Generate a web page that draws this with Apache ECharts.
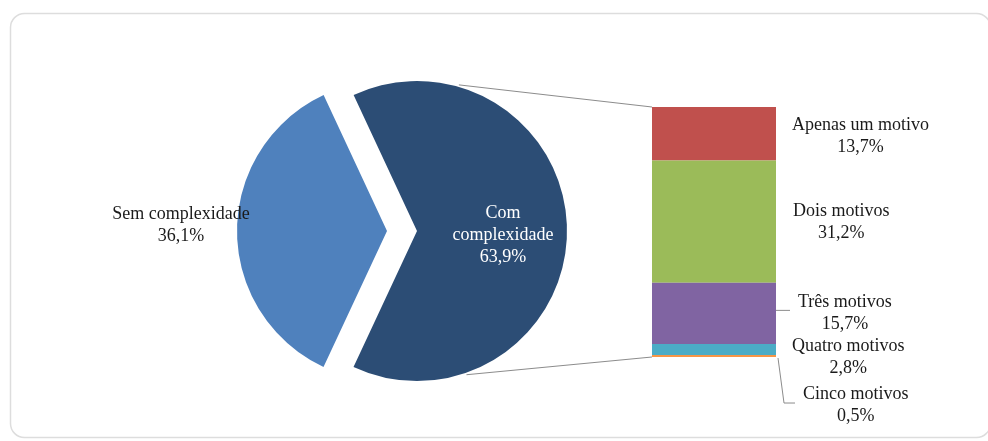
<!DOCTYPE html>
<html><head><meta charset="utf-8">
<script src="https://cdn.jsdelivr.net/npm/echarts@6/dist/echarts.min.js"></script>
<style>html,body{margin:0;padding:0;background:#fff;}#c{width:988px;height:441px;}</style>
</head><body><div id="c"></div>
<script>
// ---- data ----
const pieNames = ['Com complexidade', 'Sem complexidade'];
const pieTextLines = [['Com', 'complexidade'], ['Sem complexidade']];
const pieValues = [63.9, 36.1];
const pieLabels = ['63,9%', '36,1%'];
const barCategory = ['Com complexidade'];
const barNames = ['Apenas um motivo', 'Dois motivos', 'Três motivos', 'Quatro motivos', 'Cinco motivos'];
const barValues = [13.7, 31.2, 15.7, 2.8, 0.5];
const barLabels = ['13,7%', '31,2%', '15,7%', '2,8%', '0,5%'];

// ---- styles / layout ----
const pieColors = ['#2C4D75', '#4F81BD'];
const pieLabelColors = ['#ffffff', '#1a1a1a'];
const barColors = ['#C0504D', '#9BBB59', '#8064A2', '#4BACC6', '#F79646'];
const barLabelShift = [[0, 2], [1, 1], [6, 0], [0, 8], [11, 49]];
const PIE_CX = 417, PIE_CY = 231, PIE_R = 150, PIE_OFFSET = 30;
const GRID_L = 652, GRID_T = 107, GRID_W = 124, GRID_H = 250;
const FONT = 'Liberation Serif';

function rich(lines) { return lines.map(l => '{c|' + l + '}').join('\n'); }
const richStyle = { c: { align: 'center', fontFamily: FONT, fontSize: 18, lineHeight: 22 } };

const total = barValues.reduce((a, b) => a + b, 0);

const chart = echarts.init(document.getElementById('c'), null, { renderer: 'canvas' });

const series = [{
  type: 'pie',
  center: [PIE_CX, PIE_CY],
  radius: [0, PIE_R],
  startAngle: 115,
  clockwise: true,
  selectedMode: 'single',
  selectedOffset: PIE_OFFSET,
  silent: true,
  emphasis: { disabled: true },
  data: pieValues.map((v, i) => ({
    name: pieNames[i], value: v, selected: i === 1,
    itemStyle: { color: pieColors[i] },
    label: {
      color: pieLabelColors[i],
      formatter: rich(pieTextLines[i].concat([pieLabels[i]])),
      rich: { c: Object.assign({}, richStyle.c, { color: pieLabelColors[i] }) }
    }
  })),
  label: { show: true, position: 'inside', fontFamily: FONT, fontSize: 18 },
  labelLine: { show: false },
  labelLayout: function (p) {
    return p.dataIndex === 1 ? { dx: -128, dy: -6 } : { dx: 4, dy: 2 };
  }
}];

barValues.forEach((v, i) => {
  series.push({
    type: 'bar',
    name: barNames[i],
    stack: 'motivos',
    barWidth: '100%',
    silent: true,
    data: [v],
    itemStyle: { color: barColors[i] },
    label: {
      show: true,
      position: 'right',
      distance: 16,
      offset: barLabelShift[i],
      color: '#1a1a1a',
      formatter: rich([barNames[i], barLabels[i]]),
      rich: { c: Object.assign({}, richStyle.c, { color: '#1a1a1a' }) }
    }
  });
});

const option = {
  animation: false,
  backgroundColor: '#ffffff',
  grid: { left: GRID_L, top: GRID_T, width: GRID_W, height: GRID_H },
  xAxis: { type: 'category', data: barCategory, show: false, boundaryGap: true },
  yAxis: { type: 'value', min: 0, max: total, inverse: true, show: false },
  series: series
};
chart.setOption(option);

// ---- decorations: card, connectors, leader lines ----
const yOf = v => chart.convertToPixel({ yAxisIndex: 0 }, v);
const barRight = GRID_L + GRID_W;
const yTopBar = yOf(0), yBotBar = yOf(total);
const cum = []; barValues.reduce((a, b, i) => (cum[i] = a + b / 2, a + b), 0);
const yMid3 = yOf(cum[2]);
const yMid5 = yOf(cum[4]);
const ang1 = 74 * Math.PI / 180, ang2 = -71 * Math.PI / 180, rr = PIE_R + 2;
const lineStyle = { stroke: '#8c8c8c', lineWidth: 1 };

chart.setOption({
  graphic: [
    { type: 'rect', shape: { x: 10.5, y: 13.5, width: 980, height: 424, r: 14 },
      style: { fill: 'none', stroke: '#dddddd', lineWidth: 1.5 }, z: -1, silent: true },
    { type: 'line', shape: { x1: PIE_CX + rr * Math.cos(ang1), y1: PIE_CY - rr * Math.sin(ang1), x2: GRID_L, y2: yTopBar },
      style: lineStyle, silent: true },
    { type: 'line', shape: { x1: PIE_CX + rr * Math.cos(ang2), y1: PIE_CY - rr * Math.sin(ang2), x2: GRID_L, y2: yBotBar },
      style: lineStyle, silent: true },
    { type: 'line', shape: { x1: barRight, y1: yMid3 - 3, x2: barRight + 14, y2: yMid3 - 3 },
      style: lineStyle, silent: true },
    { type: 'polyline', shape: { points: [[barRight + 2, yBotBar + 1], [barRight + 8, yMid5 + 47], [barRight + 19, yMid5 + 47]] },
      style: lineStyle, silent: true }
  ]
});
</script>
</body></html>
